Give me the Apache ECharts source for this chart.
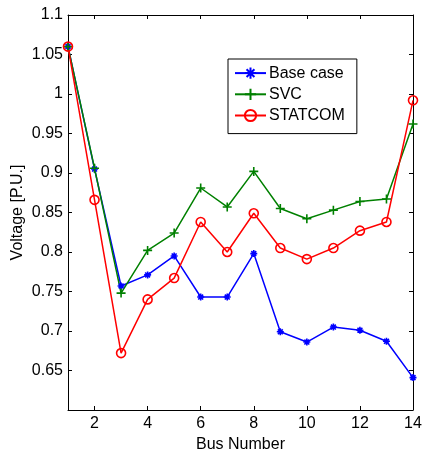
<!DOCTYPE html>
<html>
<head>
<meta charset="utf-8">
<script src="https://cdn.jsdelivr.net/npm/echarts@6/dist/echarts.min.js"></script>
<style>
  html, body { margin: 0; padding: 0; background: #fff; }
  #chart { width: 422px; height: 452px; }
</style>
</head>
<body>
<div id="chart"></div>
<script>
  // bus numbers along the x axis
  const buses = ["1", "2", "3", "4", "5", "6", "7", "8", "9", "10", "11", "12", "13", "14"];

  // voltage per bus
  const baseCase = [1.060, 0.905, 0.757, 0.771, 0.795, 0.743, 0.743, 0.798, 0.699, 0.686, 0.705, 0.701, 0.687, 0.641];
  const svc      = [1.060, 0.906, 0.748, 0.802, 0.824, 0.881, 0.857, 0.902, 0.855, 0.842, 0.853, 0.864, 0.867, 0.962];
  const statcom  = [1.060, 0.866, 0.672, 0.740, 0.767, 0.838, 0.800, 0.849, 0.805, 0.791, 0.805, 0.827, 0.838, 0.992];

  const font = "Liberation Sans, Arial, sans-serif";

  // marker shapes drawn as strokes (MATLAB style, no fill)
  const plusPath = "path://M0,5L10,5M5,0L5,10";
  const starPath = "path://M0,5L10,5M5,0L5,10M1.5,1.5L8.5,8.5M1.5,8.5L8.5,1.5";
  const ringPath = "path://M10,5A5,5,0,1,1,0,5A5,5,0,1,1,10,5Z";

  function lineSeries(name, data, color, symbol, size) {
    return {
      name: name,
      type: "line",
      data: data,
      symbol: symbol,
      symbolSize: size,
      showAllSymbol: true,
      lineStyle: { color: color, width: 1.5 },
      itemStyle: { color: "none", borderColor: color, borderWidth: 1.6 },
      emphasis: { disabled: true },
      animation: false
    };
  }

  const evenOnly = (i) => i % 2 === 1;

  const chart = echarts.init(document.getElementById("chart"), null, { renderer: "canvas" });
  chart.setOption({
    animation: false,
    grid: { left: 68, right: 9, top: 15, bottom: 42, outerBoundsMode: "none", containLabel: false },
    legend: {
      orient: "vertical",
      left: 228,
      top: 59,
      itemWidth: 31,
      itemHeight: 14,
      itemGap: 5,
      padding: [6, 12, 10, 6],
      borderColor: "#000",
      borderWidth: 1,
      backgroundColor: "#fff",
      textStyle: { fontFamily: font, fontSize: 16, color: "#000", padding: [0, 0, 0, -2] },
      data: ["Base case", "SVC", "STATCOM"]
    },
    xAxis: [
      {
        type: "category",
        data: buses,
        boundaryGap: false,
        name: "Bus Number",
        nameLocation: "middle",
        nameGap: 26,
        nameTextStyle: { fontFamily: font, fontSize: 16, color: "#000" },
        axisLine: { lineStyle: { color: "#000", width: 1 } },
        axisTick: { inside: true, length: 4, interval: evenOnly, lineStyle: { color: "#000" } },
        axisLabel: { interval: evenOnly, fontFamily: font, fontSize: 16, color: "#000", margin: 6 },
        splitLine: { show: false }
      },
      {
        type: "category",
        data: buses,
        boundaryGap: false,
        position: "top",
        axisLine: { lineStyle: { color: "#000", width: 1 } },
        axisTick: { inside: true, length: 4, interval: evenOnly, lineStyle: { color: "#000" } },
        axisLabel: { show: false },
        splitLine: { show: false }
      }
    ],
    yAxis: [
      {
        type: "value",
        min: 0.6,
        max: 1.1,
        interval: 0.05,
        name: "Voltage [P.U.]",
        nameLocation: "middle",
        nameGap: 42,
        nameMoveOverlap: false,
        nameTextStyle: { fontFamily: font, fontSize: 16, color: "#000" },
        axisLine: { show: true, lineStyle: { color: "#000", width: 1 } },
        axisTick: { show: true, inside: true, length: 4, lineStyle: { color: "#000" } },
        axisLabel: {
          fontFamily: font, fontSize: 16, color: "#000", margin: 5,
          formatter: (v) => (v < 0.61 ? "" : String(+v.toFixed(2)))
        },
        splitLine: { show: false }
      },
      {
        type: "value",
        min: 0.6,
        max: 1.1,
        interval: 0.05,
        position: "right",
        axisLine: { show: true, lineStyle: { color: "#000", width: 1 } },
        axisTick: { show: true, inside: true, length: 4, lineStyle: { color: "#000" } },
        axisLabel: { show: false },
        splitLine: { show: false }
      }
    ],
    series: [
      lineSeries("Base case", baseCase, "#0000ff", starPath, 7),
      lineSeries("SVC", svc, "#008000", plusPath, 9),
      lineSeries("STATCOM", statcom, "#ff0000", ringPath, 9)
    ]
  });
</script>
</body>
</html>
